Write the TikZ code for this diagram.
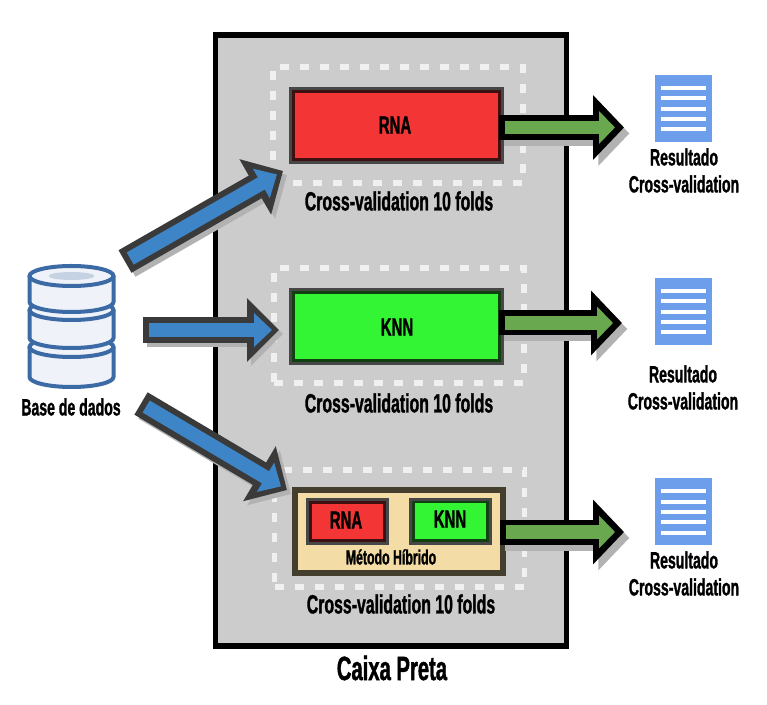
\documentclass[tikz,border=0pt]{standalone}
\usepackage{fontspec}
\usepackage{xcolor}
\usepackage{tikz}
\usetikzlibrary{arrows.meta}
\setmainfont[FakeStretch=0.6,FakeBold=1.2]{Liberation Sans}
\definecolor{cinza}{HTML}{CCCCCC}
\definecolor{borda}{HTML}{3A3A3A}
\definecolor{azul}{HTML}{3D85C6}
\definecolor{verde}{HTML}{6AA84F}
\definecolor{vermelho}{HTML}{F43535}
\definecolor{verdeknn}{HTML}{33F533}
\definecolor{areia}{HTML}{F3DCA5}
\definecolor{doccor}{HTML}{6D9EEB}
\definecolor{discoborda}{HTML}{3B6AA5}
\definecolor{discofill}{HTML}{EFF3F9}
\definecolor{vinho}{HTML}{3F1010}
\definecolor{musgo}{HTML}{103F10}
\tikzstyle{rotulo} = [inner sep=0pt, font=\bfseries\fontsize{19.8}{22}\selectfont, text=black]
\tikzstyle{sigla} = [inner sep=0pt, font=\bfseries\fontsize{18.7}{21}\selectfont, text=black]
\tikzstyle{pequeno} = [inner sep=0pt, font=\bfseries\fontsize{17.6}{20}\selectfont, text=black]
\tikzstyle{caixapreta} = [rectangle, draw=black, fill=cinza, line width=4.2pt, minimum width=351*0.75pt, minimum height=611*0.75pt, outer sep=0pt]
\tikzstyle{tracejado} = [rectangle, draw=white!94!black, line width=4.2pt, dash pattern=on 6.75pt off 8.25pt, minimum width=250*0.75pt, minimum height=116*0.75pt, outer sep=0pt]
\tikzstyle{modelo} = [rectangle, line width=2.25pt, draw=black!72, minimum width=212*0.75pt, minimum height=74*0.75pt, outer sep=0pt]
\tikzstyle{menor} = [rectangle, line width=2.25pt, draw=black!72, minimum width=80*0.75pt, minimum height=44*0.75pt, outer sep=0pt]
\tikzstyle{doc} = [rectangle, fill=doccor, minimum width=57*0.75pt, minimum height=67*0.75pt, outer sep=0pt]
\tikzstyle{docline} = [draw=white, line width=3pt]
\tikzstyle{disco} = [draw=discoborda, fill=discofill, line width=3pt]
\tikzstyle{setaazul} = [
  preaction={draw=black!30, line width=19.5pt, shorten <=0pt, shorten >=0pt, transform canvas={shift={(3pt,-3pt)}}, -{Triangle[width=46.5pt,length=24pt]}},
  preaction={draw=borda, line width=19.5pt, shorten <=0pt, shorten >=0pt, -{Triangle[width=46.5pt,length=24pt]}},
  draw=azul, line width=10.5pt, shorten <=4.5pt, shorten >=5.25pt, -{Triangle[width=24.75pt,length=13.5pt]}]
\tikzstyle{setaverde} = [
  preaction={draw=black!30, line width=18.75pt, shorten <=-2.6pt, shorten >=0pt, transform canvas={shift={(4pt,-4.5pt)}}, -{Triangle[width=47.25pt,length=23.25pt]}},
  preaction={draw=black, line width=18.75pt, shorten <=-2.6pt, shorten >=0pt, -{Triangle[width=47.25pt,length=23.25pt]}},
  draw=verde, line width=10pt, shorten <=1.9pt, shorten >=6.75pt, -{Triangle[width=24pt,length=12pt]}]
\begin{document}
\begin{tikzpicture}[x=0.75pt, y=-0.75pt]
   \useasboundingbox (0,0) rectangle (767,705);
   \node (preta) [caixapreta] at (391,340.5) {};
   \node (dashrna) [tracejado] at (398,125) {};
   \node (dashknn) [tracejado, minimum height=115*0.75pt] at (399,325.5) {};
   \node (dashhib) [tracejado, minimum height=117*0.75pt] at (399.5,528.5) {};
   % modelos
   \node (rna) [modelo, fill=vermelho, path picture={\draw[line width=6.75pt, vinho] (path picture bounding box.south west) rectangle (path picture bounding box.north east);}] at (396.5,125.5) {};
   \node (knn) [modelo, fill=verdeknn, path picture={\draw[line width=6.75pt, musgo] (path picture bounding box.south west) rectangle (path picture bounding box.north east);}] at (396.5,327) {};
   \node (hib) [modelo, fill=areia, draw=black!72!areia, line width=4.2pt, minimum width=208.5*0.75pt, minimum height=83.5*0.75pt] at (399,531.5) {};
   \node (rnah) [menor, fill=vermelho, path picture={\draw[line width=6.3pt, vinho] (path picture bounding box.south west) rectangle (path picture bounding box.north east);}] at (347.4,521.6) {};
   \node (knnh) [menor, fill=verdeknn, path picture={\draw[line width=6.3pt, musgo] (path picture bounding box.south west) rectangle (path picture bounding box.north east);}] at (450.5,521.2) {};
   % textos
   \node (trna) [sigla] at (395,125) {RNA};
   \node (tknn) [sigla] at (397,327) {KNN};
   \node (trnah) [sigla] at (346,520) {RNA};
   \node (tknnh) [sigla] at (450,519) {KNN};
   \node (thib) [pequeno, font=\bfseries\fontsize{15.4}{17}\selectfont] at (391,557) {Método Híbrido};
   \node (cv1) [rotulo] at (399,201) {Cross-validation 10 folds};
   \node (cv2) [rotulo] at (399,403) {Cross-validation 10 folds};
   \node (cv3) [rotulo] at (401,604) {Cross-validation 10 folds};
   \node (titulo) [rotulo, font=\bfseries\fontsize{25.3}{28}\selectfont] at (392,668) {Caixa Preta};
   % base de dados
   \foreach \t/\b in {347/377, 310/338, 276/302} {
      \draw[disco] (29.5,\t) -- (29.5,\b) arc[start angle=180, end angle=0, x radius=42, y radius=10] -- (113.5,\t);
      \draw[disco] (71.5,\t) ellipse[x radius=42, y radius=10];
   }
   \fill[fill=discoborda!30!white] (71.5,276) ellipse[x radius=23, y radius=4];
   \node (base) [pequeno] at (71,407) {Base de dados};
   % resultados
   \foreach \n/\p in {docA/75, docB/278, docC/478} {
      \node (\n) [doc] at (683.5,\p+33.5) {};
      \foreach \l in {13,23.5,33.7,44,54.5}
         \draw[docline] (661,\p+\l) -- (706,\p+\l);
   }
   \node (res1) [pequeno] at (684,157) {Resultado};
   \node (crv1) [pequeno, below of=res1, node distance=20.25pt] {Cross-validation};
   \node (res2) [pequeno] at (683,374) {Resultado};
   \node (crv2) [pequeno, below of=res2, node distance=20.25pt] {Cross-validation};
   \node (res3) [pequeno] at (684,560) {Resultado};
   \node (crv3) [pequeno, below of=res3, node distance=20.25pt] {Cross-validation};
   % setas
   \coordinate (in1) at (125,261.5);
   \coordinate (fim1) at (283,171);
   \coordinate (in2) at (143,330);
   \coordinate (fim2) at (279,330);
   \coordinate (in3) at (141,403.5);
   \coordinate (fim3) at (287,490);
   \coordinate (out1) at (624,127.5);
   \coordinate (out2) at (622,323);
   \coordinate (out3) at (624,532);
   \draw [setaazul] (in1) -- (fim1);
   \draw [setaazul] (in2) -- (fim2);
   \draw [setaazul] (in3) -- (fim3);
   \draw [setaverde] (rna.east |- out1) -- (out1);
   \draw [setaverde] (knn.east |- out2) -- (out2);
   \draw [setaverde] (hib.east |- out3) -- (out3);
\end{tikzpicture}
\end{document}
